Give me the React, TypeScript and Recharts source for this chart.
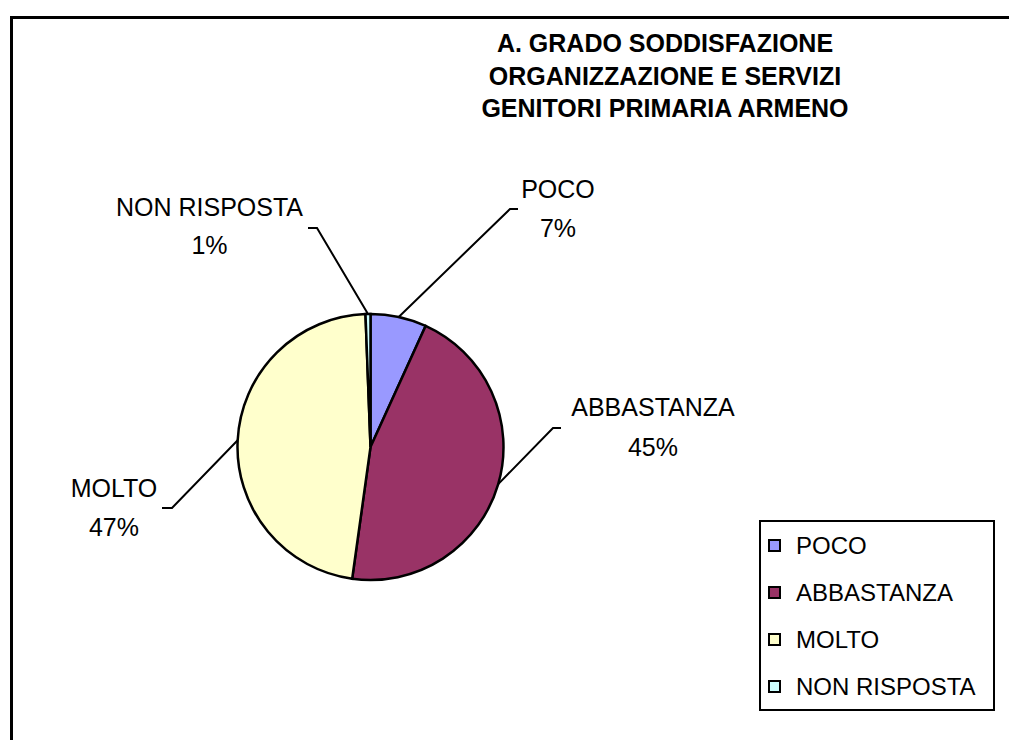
import React from 'react';
import { PieChart, Pie, Cell, Legend } from 'recharts';

const CATEGORIES = ['POCO', 'ABBASTANZA', 'MOLTO', 'NON RISPOSTA'];
const VALUES = [6.8, 45.4, 47.2, 0.6];
const COLORS = ['#9999FF', '#993366', '#FFFFCC', '#CCFFFF'];
const TITLE_LINES = ['A. GRADO SODDISFAZIONE', 'ORGANIZZAZIONE E SERVIZI', 'GENITORI PRIMARIA ARMENO'];

const data = CATEGORIES.map((name, i) => ({ name, value: VALUES[i] }));

// label layout, offsets relative to the pie centre
const LABEL_LAYOUT = [
  { elbow: [139.5, -238], end: [147.5, -238], tx: 187.5, ty: [-258, -219] },
  { elbow: [182.5, -19], end: [190.5, -19], tx: 282.5, ty: [-40, 0] },
  { elbow: [-198.5, 61], end: [-208.5, 61], tx: -256.5, ty: [41, 80] },
  { elbow: [-53.5, -219], end: [-62.5, -219], tx: -161, ty: [-240, -202] },
];

const FONT = '"Liberation Sans", Arial, sans-serif';
const RAD = Math.PI / 180;

const renderLabel = (props: any) => {
  const { cx, cy, midAngle, outerRadius, index, name, percent } = props;
  const L = LABEL_LAYOUT[index];
  const sx = cx + outerRadius * Math.cos(-midAngle * RAD);
  const sy = cy + outerRadius * Math.sin(-midAngle * RAD);
  const ex = cx + L.elbow[0];
  const ey = cy + L.elbow[1];
  const hx = cx + L.end[0];
  const hy = cy + L.end[1];
  const pct = Math.round(percent * 100) + '%';
  return (
    <g key={`lbl-${index}`}>
      <polyline points={`${sx},${sy} ${ex},${ey} ${hx},${hy}`} fill="none" stroke="#000" strokeWidth={2} />
      <text x={cx + L.tx} y={cy + L.ty[0]} textAnchor="middle" dominantBaseline="central" fontFamily={FONT} fontSize={25} fill="#000">
        {name}
      </text>
      <text x={cx + L.tx} y={cy + L.ty[1]} textAnchor="middle" dominantBaseline="central" fontFamily={FONT} fontSize={25} fill="#000">
        {pct}
      </text>
    </g>
  );
};

const renderLegend = () => {
  return (
    <div
      style={{
        boxSizing: 'border-box',
        width: 236,
        height: 191,
        border: '2px solid #000',
        background: '#fff',
        fontFamily: FONT,
        fontSize: 24,
        color: '#000',
      }}
    >
      {CATEGORIES.map((name, i) => (
        <div key={name} style={{ height: 47, display: 'flex', alignItems: 'center', whiteSpace: 'nowrap' }}>
          <div
            style={{
              boxSizing: 'border-box',
              width: 13,
              height: 13,
              marginLeft: 7,
              marginRight: 15,
              border: '2px solid #000',
              background: COLORS[i],
              flex: 'none',
            }}
          />
          <span style={{ lineHeight: '24px' }}>{name}</span>
        </div>
      ))}
    </div>
  );
};

export default function App() {
  return (
    <div style={{ position: 'fixed', left: 0, top: 0, width: 1009, height: 740, overflow: 'hidden', background: '#fff' }}>
      <div
        style={{
          position: 'absolute',
          left: 10,
          top: 16,
          width: 1100,
          height: 900,
          border: '3px solid #000',
          boxSizing: 'border-box',
        }}
      />
      <div
        style={{
          position: 'absolute',
          left: 465,
          top: 27,
          width: 400,
          textAlign: 'center',
          fontFamily: FONT,
          fontWeight: 'bold',
          fontSize: 25,
          lineHeight: '32.5px',
          color: '#000',
          whiteSpace: 'nowrap',
        }}
      >
        {TITLE_LINES.map((t, i) => (
          <div key={i}>{t}</div>
        ))}
      </div>
      <div style={{ position: 'absolute', left: 0, top: 0 }}>
        <PieChart width={1009} height={740} margin={{ top: 0, left: 0, right: 0, bottom: 0 }}>
          <Pie
            data={data}
            dataKey="value"
            nameKey="name"
            cx={370.5}
            cy={447}
            outerRadius={133}
            startAngle={90}
            endAngle={-270}
            stroke="#000"
            strokeWidth={2.5}
            isAnimationActive={false}
            labelLine={false}
            label={renderLabel}
          >
            {data.map((d, i) => (
              <Cell key={d.name} fill={COLORS[i]} stroke="#000" strokeWidth={2.5} />
            ))}
          </Pie>
          <Legend
            content={renderLegend}
            wrapperStyle={{ position: 'absolute', left: 759, top: 520, width: 236, height: 191 }}
          />
        </PieChart>
      </div>
    </div>
  );
}
